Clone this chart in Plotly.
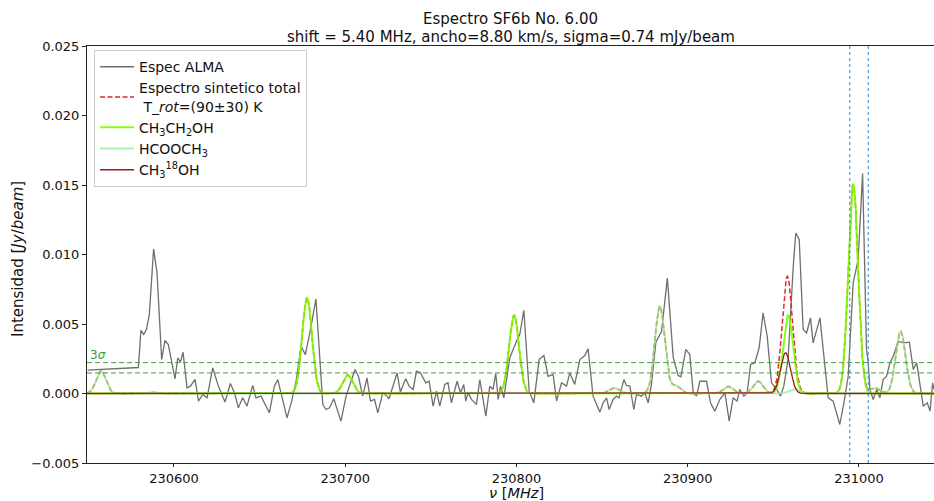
import numpy as np
import plotly.graph_objects as go

# ---- observed ALMA spectrum (frequency in MHz, intensity in Jy/beam) ----
obs_freq = [
    230549.6, 230579.2, 230580.7, 230582.3, 230583.9, 230585.6, 230588.1, 230590.1, 230592.8, 230594.7,
    230596.7, 230598.2, 230600.6, 230602.2, 230603.7, 230605.3, 230607.6, 230609.6, 230612.3, 230614.3,
    230616.8, 230619.3, 230622.6, 230625.9, 230629.8, 230632.9, 230635.3, 230637.6, 230640.1, 230642.6,
    230646.0, 230647.9, 230650.8, 230655.7, 230658.6, 230660.6, 230662.9, 230666.0, 230668.7, 230671.3,
    230674.2, 230676.7, 230679.7, 230682.9, 230686.9, 230688.8, 230690.8, 230693.3, 230697.5, 230700.5,
    230703.4, 230705.7, 230707.7, 230710.2, 230712.7, 230714.7, 230717.1, 230719.0, 230721.9, 230724.4,
    230725.6, 230727.9, 230730.3, 230732.2, 230735.3, 230737.3, 230739.6, 230741.6, 230743.9, 230747.0,
    230749.0, 230751.3, 230753.3, 230755.2, 230758.1, 230760.0, 230762.0, 230765.3, 230767.3, 230769.2,
    230770.4, 230771.7, 230773.7, 230776.6, 230778.6, 230782.1, 230784.4, 230786.3, 230787.9, 230789.3,
    230790.7, 230792.6, 230796.1, 230800.0, 230801.9, 230804.3, 230807.4, 230810.1, 230813.2, 230816.0,
    230818.5, 230821.4, 230823.4, 230826.3, 230829.2, 230831.1, 230834.0, 230837.0, 230839.9, 230841.8,
    230844.7, 230848.7, 230850.6, 230852.6, 230854.1, 230856.4, 230858.4, 230859.9, 230862.7, 230864.2,
    230866.2, 230868.5, 230870.1, 230873.0, 230874.9, 230876.9, 230878.8, 230881.4, 230884.7, 230888.1,
    230891.5, 230894.4, 230896.0, 230898.9, 230901.2, 230903.2, 230905.1, 230907.1, 230911.0, 230913.3,
    230915.8, 230918.7, 230921.7, 230924.2, 230926.5, 230928.8, 230930.4, 230932.8, 230934.7, 230936.7,
    230939.2, 230941.7, 230944.0, 230946.4, 230948.9, 230951.9, 230954.2, 230956.1, 230958.6, 230961.6,
    230963.1, 230965.1, 230967.4, 230969.4, 230971.7, 230973.2, 230977.2, 230979.5, 230982.0, 230984.9,
    230986.9, 230988.8, 230991.2, 230993.7, 230996.6, 230999.5, 231002.1, 231004.4, 231005.4, 231006.4,
    231008.3, 231010.3, 231012.2, 231014.1, 231016.1, 231018.1, 231020.0, 231022.9, 231025.9, 231029.4,
    231031.7, 231033.7, 231035.6, 231037.5, 231039.9, 231041.5, 231043.0, 231043.8,
]
obs_int = [
    0.00168, 0.00187, 0.00455, 0.00424, 0.00460, 0.00568, 0.01040, 0.00868, 0.00244, 0.00381,
    0.00352, 0.00257, 0.00106, 0.00257, 0.00225, 0.00297, 0.00041, 0.00053, 0.00101, -0.00055,
    -0.00007, -0.00031, 0.00185, 0.00053, -0.00062, 0.00072, 0.00005, -0.00103, -0.00031, -0.00091,
    0.00058, -0.00031, -0.00019, -0.00139, 0.00053, 0.00100, -0.00019, -0.00175, -0.00055, 0.00088,
    0.00340, 0.00280, 0.00460, 0.00680, -0.00079, -0.00115, -0.00103, -0.00038, -0.00199, -0.00019,
    0.00088, 0.00173, 0.00124, -0.00019, 0.00113, -0.00055, -0.00043, -0.00139, 0.00005, -0.00019,
    -0.00038, 0.00053, 0.00149, 0.00010, 0.00106, 0.00053, 0.00029, 0.00160, 0.00149, 0.00077,
    0.00088, -0.00091, 0.00017, -0.00091, 0.00065, 0.00077, -0.00067, 0.00088, 0.00005, 0.00065,
    -0.00055, 0.00010, -0.00043, -0.00079, 0.00100, -0.00163, 0.00053, 0.00029, 0.00144, -0.00043,
    0.00053, -0.00031, 0.00257, 0.00376, 0.00424, 0.00599, 0.00017, -0.00067, 0.00244, 0.00273,
    0.00124, 0.00137, -0.00055, 0.00077, 0.00053, 0.00149, 0.00065, 0.00244, 0.00273, 0.00321,
    -0.00019, -0.00134, -0.00067, -0.00031, -0.00115, -0.00043, -0.00019, -0.00031, 0.00100, 0.00058,
    0.00053, -0.00115, -0.00007, -0.00019, 0.00005, -0.00067, 0.00065, 0.00369, 0.00448, 0.00830,
    0.00260, 0.00130, 0.00120, 0.00317, 0.00280, 0.00005, -0.00019, 0.00088, 0.00088, -0.00067,
    -0.00127, -0.00043, 0.00005, -0.00199, -0.00031, -0.00055, 0.00029, -0.00019, 0.00005, 0.00209,
    0.00221, 0.00329, 0.00580, 0.00412, 0.00077, 0.00030, -0.00019, 0.00053, 0.00244, 0.00915,
    0.01155, 0.01107, 0.00460, 0.00436, 0.00544, 0.00364, 0.00544, 0.00268, -0.00031, -0.00055,
    -0.00139, -0.00223, -0.00067, 0.00124, 0.00796, 0.00963, 0.01582, 0.00317, 0.00221, 0.00029,
    -0.00043, 0.00029, -0.00031, 0.00100, 0.00124, 0.00221, 0.00268, 0.00376, 0.00364, 0.00369,
    0.00173, 0.00221, 0.00065, -0.00091, -0.00067, -0.00127, 0.00077, 0.00030,
]

# ---- synthetic line lists: rest frequency (MHz) and peak intensity (Jy/beam) ----
etoh_freq = [230677.7, 230701.5, 230798.6, 230958.6, 230996.6]
etoh_peak = [0.00688, 0.00132, 0.00563, 0.00563, 0.01503]

mf_freq = [230557.4, 230586.6, 230857.0, 230883.7, 230893.0, 230923.6, 230941.1, 230962.0, 231009.3, 231024.3]
mf_peak = [0.00160, 0.00010, 0.00040, 0.00628, 0.00055, 0.00050, 0.00088, 0.00030, 0.00040, 0.00448]

meoh18_freq = [230957.1]
meoh18_peak = [0.00293]

# spectrum parameters shown in the title
shift_mhz = 5.40
width_kms = 8.80
sigma_jy = 0.00074
center_mhz = 231000.0

x_ticks = [230600, 230700, 230800, 230900, 231000]
y_ticks = [-0.005, 0.000, 0.005, 0.010, 0.015, 0.020, 0.025]

# ---- model profiles ----
c_kms = 299792.458
fwhm_mhz = width_kms / c_kms * 230800.0
sig_mhz = fwhm_mhz / (2.0 * np.sqrt(2.0 * np.log(2.0)))
grid = np.linspace(230549.2, 231043.8, 2000)


def profile(freqs, peaks):
    out = np.zeros_like(grid)
    for f0, a in zip(freqs, peaks):
        out += a * np.exp(-0.5 * ((grid - f0) / sig_mhz) ** 2)
    return out


etoh = profile(etoh_freq, etoh_peak)
mf = profile(mf_freq, mf_peak)
meoh18 = profile(meoh18_freq, meoh18_peak)
total = etoh + mf + meoh18

FONT = "DejaVu Sans"
fig = go.Figure()

fig.add_trace(go.Scatter(x=obs_freq, y=obs_int, mode="lines", name="Espec ALMA",
                         line=dict(color="#6f6f6f", width=1.3)))
fig.add_trace(go.Scatter(x=grid, y=total, mode="lines",
                         name="Espectro sintetico total<br> T_<i>rot</i>=(90±30) K",
                         line=dict(color="#dd2a2a", width=1.5, dash="5px,2.5px")))
fig.add_trace(go.Scatter(x=grid, y=etoh, mode="lines", name="CH<sub>3</sub>CH<sub>2</sub>OH",
                         line=dict(color="rgba(124,252,0,0.9)", width=2)))
fig.add_trace(go.Scatter(x=grid, y=mf, mode="lines", name="HCOOCH<sub>3</sub>",
                         line=dict(color="rgba(144,238,144,0.75)", width=2)))
fig.add_trace(go.Scatter(x=grid, y=meoh18, mode="lines", name="CH<sub>3</sub><sup>18</sup>OH",
                         line=dict(color="#9e1a1a", width=1.3)))

# 2 sigma and 3 sigma noise levels
for k in (2, 3):
    fig.add_shape(type="line", xref="paper", x0=0, x1=1, yref="y", y0=k * sigma_jy, y1=k * sigma_jy,
                  line=dict(color="#3a9e3a", width=1, dash="5px,3px"), layer="above")
fig.add_annotation(xref="paper", x=0.0015, yref="y", y=3 * sigma_jy, text="3<i>σ</i>",
                   showarrow=False, xanchor="left", yanchor="bottom",
                   font=dict(family=FONT, size=12, color="#3a9e3a"), yshift=-1)

# frequency window of the shift
for s in (-shift_mhz, shift_mhz):
    fig.add_shape(type="line", xref="x", x0=center_mhz + s, x1=center_mhz + s, yref="paper", y0=0, y1=1,
                  line=dict(color="#4d97d6", width=1.2, dash="dot"), layer="above")

# title lines and axis labels
fig.add_annotation(xref="paper", x=0.5, yref="paper", y=1.0647, text="Espectro SF6b No. 6.00",
                   showarrow=False, xanchor="center", yanchor="middle",
                   font=dict(family=FONT, size=15, color="#111"))
fig.add_annotation(xref="paper", x=0.5, yref="paper", y=1.0216,
                   text="shift = 5.40 MHz, ancho=8.80 km/s, sigma=0.74 mJy/beam",
                   showarrow=False, xanchor="center", yanchor="middle",
                   font=dict(family=FONT, size=15, color="#111"))
fig.add_annotation(xref="paper", x=0.507, yref="paper", y=-0.073, text="<i>ν</i> [<i>MHz</i>]",
                   showarrow=False, xanchor="center", yanchor="middle",
                   font=dict(family=FONT, size=14.5, color="#111"))
fig.add_annotation(xref="paper", x=-0.0822, yref="paper", y=0.49, text="Intensidad [<i>Jy</i>/<i>beam</i>]",
                   showarrow=False, textangle=-90, xanchor="center", yanchor="middle",
                   font=dict(family=FONT, size=15, color="#111"))

fig.update_layout(
    width=934, height=501,
    margin=dict(l=87, r=0, t=46, b=38),
    paper_bgcolor="white", plot_bgcolor="white",
    font=dict(family=FONT, size=13, color="#111"),
    showlegend=True,
    legend=dict(x=0.0083, y=0.99, xanchor="left", yanchor="top",
                bgcolor="rgba(255,255,255,0.85)", bordercolor="#cccccc", borderwidth=1,
                font=dict(family=FONT, size=14, color="#111"), itemwidth=34,
                tracegroupgap=1),
)
fig.update_xaxes(range=[230549.2, 231043.8], showgrid=False, zeroline=False,
                 showline=True, linecolor="#222", linewidth=1, mirror=True,
                 ticks="outside", ticklen=3, tickcolor="#222",
                 tickvals=x_ticks, ticktext=[str(v) for v in x_ticks],
                 tickfont=dict(family=FONT, size=13, color="#111"))
fig.update_yaxes(range=[-0.005, 0.025], showgrid=False, zeroline=False,
                 showline=True, linecolor="#222", linewidth=1, mirror=False,
                 ticks="outside", ticklen=4, tickcolor="#222",
                 tickvals=y_ticks, ticktext=[f"{v:.3f}".replace("-", "−") for v in y_ticks],
                 tickfont=dict(family=FONT, size=13, color="#111"))

fig.write_html("out.html")
